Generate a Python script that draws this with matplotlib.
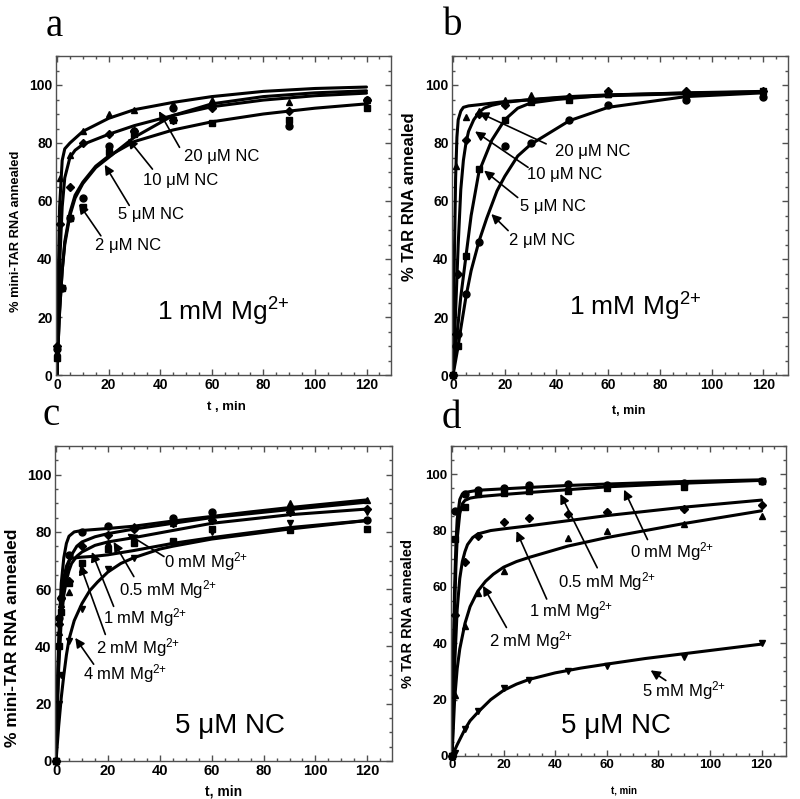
import numpy as np
import matplotlib
matplotlib.use("Agg")
import matplotlib.pyplot as plt
from matplotlib.ticker import MultipleLocator

plt.rcParams['font.family'] = ['Liberation Sans', 'DejaVu Sans']
plt.rcParams['mathtext.default'] = 'regular'

# ---------------- panel a : mini-TAR, 1 mM Mg2+, NC varied ----------------
a_labels = ["20 μM NC", "10 μM NC", "5 μM NC", "2 μM NC"]
a_pts_t = [[0, 1, 5, 10, 20, 30, 45, 60, 90, 120],
           [0, 1, 5, 10, 20, 30, 45, 60, 90, 120],
           [0, 2, 5, 10, 20, 30, 45, 60, 90, 120],
           [0, 2, 5, 10, 20, 30, 45, 60, 90, 120]]
a_pts_y = [[8, 68, 76, 84, 90, 91.5, 93.5, 95, 94, 95],
           [10, 52, 65, 80, 83, 84, 88, 92, 91, 95],
           [9, 30, 54, 61, 79, 84, 92, 93, 86, 95],
           [6, 30, 54, 58, 77, 83, 88, 87, 88, 92]]
a_fit_t = [[0, 0.5, 1, 2, 3, 5, 10, 20, 30, 45, 60, 80, 100, 120],
           [0, 0.5, 1, 2, 3, 5, 7, 10, 20, 30, 45, 60, 80, 100, 120],
           [0, 0.5, 1, 2, 3, 5, 7, 10, 15, 20, 30, 45, 60, 80, 100, 120],
           [0, 0.5, 1, 2, 3, 5, 7, 10, 15, 20, 30, 45, 60, 80, 100, 120]]
a_fit_y = [[0, 35, 58, 74, 78, 80, 84, 88.5, 91.5, 94, 96, 97.8, 98.8, 99.3],
           [0, 20, 38, 58, 68, 75, 77.5, 79.5, 83, 86, 89.5, 92.5, 94.8, 96.3, 97.2],
           [0, 12, 22, 36, 45, 55, 61, 66, 71.5, 75, 82, 89.5, 93.5, 96, 97.3, 98],
           [0, 12, 22, 36, 46, 56, 62, 66.5, 72, 75.5, 80.5, 84.5, 87.3, 90, 92, 93.5]]
a_markers = ['^', 'D', 'o', 's']

# ---------------- panel b : TAR, 1 mM Mg2+, NC varied ----------------
b_labels = ["20 μM NC", "10 μM NC", "5 μM NC", "2 μM NC"]
b_pts_t = [[0, 1, 5, 10, 20, 30, 45, 60, 90, 120],
           [0, 1, 2, 5, 10, 20, 30, 45, 60, 90, 120],
           [0, 2, 5, 10, 20, 30, 45, 60, 90, 120],
           [0, 1, 2, 5, 10, 20, 30, 45, 60, 90, 120]]
b_pts_y = [[0, 72, 89, 91, 95, 96.5, 96, 97, 97.5, 98],
           [0, 14, 35, 81, 90, 93, 95, 96, 98, 98, 98],
           [0, 10, 41, 71, 88, 94, 95, 97, 97, 98],
           [0, 10, 14, 28, 46, 79, 80, 88, 93, 95, 96]]
b_fit_t = [[0, 0.5, 1, 1.5, 2, 3, 4, 6, 10, 20, 40, 60, 90, 120],
           [0, 1, 2, 3, 4, 5, 6, 8, 10, 12, 15, 20, 30, 45, 60, 90, 120],
           [0, 1, 2, 3, 5, 7, 10, 15, 20, 25, 30, 40, 60, 90, 120],
           [0, 1, 2, 3, 5, 7, 10, 13, 17, 20, 25, 30, 45, 60, 90, 120]]
b_fit_y = [[0, 40, 68, 82, 88, 91, 92.3, 92.8, 93.2, 94.3, 95.5, 96.3, 97, 97.5],
           [0, 22, 45, 64, 74, 80, 84, 88, 90.5, 92, 93, 94, 95, 96, 96.6, 97.2, 97.6],
           [0, 10, 18, 27, 41, 55, 70, 81, 88, 92, 93.8, 95, 96.5, 97.3, 97.8],
           [0, 5, 10, 16, 27, 36, 46, 54, 63.5, 68.5, 75.5, 79.5, 87.7, 92.3, 96, 97.3]]
b_markers = ['^', 'D', 's', 'o']

# ---------------- panel c : mini-TAR, 5 uM NC, Mg2+ varied ----------------
c_labels = ["0 mM Mg$^{2{+}}$", "0.5 mM Mg$^{2{+}}$", "1 mM Mg$^{2{+}}$",
            "2 mM Mg$^{2{+}}$", "4 mM Mg$^{2{+}}$"]
c_pts_t = [[0, 1, 2, 5, 10, 20, 30, 45, 60, 90, 120]] * 5
c_pts_y = [[0, 50, 57, 72, 80, 82, 81.5, 85, 87, 88, 84],
           [0, 48, 57, 63, 75, 79, 81, 83, 84, 87, 88],
           [0, 45, 55, 59, 67, 76, 82, 83, 84, 90, 91],
           [0, 40, 52, 62, 69, 74, 76, 77, 81, 80.5, 81],
           [0, 20, 30, 42, 53, 67, 71, 76, 80, 83, 87]]
c_fit_t = [[0, 0.5, 1, 2, 3, 4, 5, 7, 10, 20, 30, 45, 60, 75, 90, 120],
           [0, 0.5, 1, 2, 3, 4, 5, 6, 8, 10, 15, 20, 30, 45, 60, 90, 120],
           [0, 0.5, 1, 2, 3, 4, 5, 6, 8, 10, 15, 20, 30, 45, 60, 90, 120],
           [0, 0.5, 1, 2, 3, 4, 5, 6, 8, 10, 15, 20, 30, 45, 60, 90, 120],
           [0, 1, 2, 3, 4, 5, 7, 10, 13, 16, 20, 25, 30, 40, 45, 60, 90, 120]]
c_fit_y = [[0, 24, 42, 62, 71, 76, 78.5, 80, 80.5, 81.2, 82, 83.8, 85.4, 87, 88.5, 91.2],
           [0, 20, 35, 52, 61, 66, 69.5, 72, 75, 76.5, 78.3, 79.4, 81, 83, 85, 87.8, 90.4],
           [0, 18, 32, 49, 58, 63, 66.5, 69, 71.5, 73, 75.3, 76.5, 78, 80.5, 83, 86, 88],
           [0, 22, 38, 56, 64, 68, 70, 70.8, 71, 71.2, 71.5, 72, 73.5, 76, 78, 81.5, 84],
           [0, 12, 22, 30, 37, 42.5, 49, 55, 59.5, 62.5, 66, 69, 71, 74, 75, 77.5, 81, 84]]
c_markers = ['o', 'D', '^', 's', 'v']

# ---------------- panel d : TAR, 5 uM NC, Mg2+ varied ----------------
d_labels = ["0 mM Mg$^{2{+}}$", "0.5 mM Mg$^{2{+}}$", "1 mM Mg$^{2{+}}$",
            "2 mM Mg$^{2{+}}$", "5 mM Mg$^{2{+}}$"]
d_pts_t = [[0, 1, 5, 10, 20, 30, 45, 60, 90, 120],
           [0, 1, 5, 10, 20, 30, 45, 60, 90, 120],
           [0, 1, 5, 10, 20, 30, 45, 60, 90, 120],
           [0, 1, 5, 10, 20, 45, 60, 90, 120],
           [0, 1, 5, 10, 20, 30, 45, 60, 90, 120]]
d_pts_y = [[0, 87, 93, 94.5, 95, 96, 96.5, 96, 97, 97.5],
           [0, 77, 88.5, 93, 93.5, 94, 94, 95, 95.5, 97.5],
           [0, 50, 69, 78, 83, 84.5, 86, 86.5, 87.5, 89],
           [0, 21.5, 46, 58, 65.5, 77.5, 80, 82.5, 85],
           [0, 1, 9.5, 16, 24, 27, 30, 32, 35, 40]]
d_fit_t = [[0, 0.5, 1, 1.5, 2, 3, 4, 5, 10, 20, 30, 45, 60, 90, 120],
           [0, 0.5, 1, 1.5, 2, 3, 4, 5, 7, 10, 20, 30, 45, 60, 90, 120],
           [0, 0.5, 1, 2, 3, 4, 5, 6, 8, 10, 15, 20, 30, 45, 60, 90, 120],
           [0, 1, 2, 3, 5, 7, 10, 13, 16, 20, 25, 30, 45, 60, 75, 90, 120],
           [0, 2, 5, 7, 10, 15, 20, 25, 30, 40, 50, 60, 75, 90, 105, 120]]
d_fit_y = [[0, 35, 60, 75, 84, 91, 93, 93.5, 94.3, 94.8, 95.3, 96, 96.5, 97.4, 98],
           [0, 30, 52, 67, 77, 86, 89.5, 90.7, 91.5, 92, 92.8, 93.5, 94.5, 95.5, 96.8, 97.8],
           [0, 18, 32, 52, 63, 69, 72.5, 75, 77.5, 78.8, 80, 80.6, 81.7, 83.5, 85.3, 88.3, 90.8],
           [0, 20, 31, 38, 47, 53, 58.5, 62, 64.5, 67, 69, 70.5, 74.5, 77.5, 80, 82.5, 87],
           [0, 4, 9.5, 12.5, 15.5, 20, 23.3, 25.5, 27.2, 29.5, 31.2, 32.6, 34.6, 36.3, 38, 39.7]]
d_markers = ['o', 's', 'D', '^', 'v']

# label layout: (text x, text y, arrow tail x, tail y, arrow tip x, tip y) in data units
a_ann = [(64, 75.5, 47.5, 78.5, 39.5, 91), (48, 67, 37, 71, 27.5, 81.5),
         (36.5, 55.5, 28, 58.5, 18.5, 72.5), (27.5, 44.5, 17, 48, 8.5, 59)]
b_ann = [(54, 77, 36, 79.7, 10, 90.5), (43, 69, 29, 71.6, 8.5, 84),
         (38.5, 58, 25, 61.2, 12, 70.5), (34.5, 46.3, 21.3, 49.8, 14.8, 55.5)]
c_ann = [(58, 69.5, 41.6, 71.4, 27.4, 79.4), (43, 59.8, 30, 64.4, 22.2, 76.5),
         (34.5, 50, 22.2, 54, 13.8, 73), (31.5, 39.6, 19, 44.2, 9.3, 68.5),
         (26.5, 30.4, 14.5, 33.8, 7.4, 43)]
d_ann = [(85.5, 72.7, 75.8, 76.8, 66.7, 94.5), (60, 62, 56.3, 66.8, 42, 93),
         (46, 51.5, 36.7, 55.7, 25, 79.8), (30.5, 41, 21.1, 45.6, 12, 60.4),
         (90, 23.3, 82.9, 26.8, 77, 30.4)]

W, H = 800, 799
fig = plt.figure(figsize=(W / 100, H / 100), dpi=100)
SPINE = '#505050'


def make_axes(left, top, right, bottom):
    return fig.add_axes([left / W, 1 - bottom / H, (right - left) / W, (bottom - top) / H])


def panel(ax, pts_t, pts_y, fit_t, fit_y, markers, labels, ann, tick_fs):
    for t, y in zip(fit_t, fit_y):
        ax.plot(t, y, color='black', lw=2.2, solid_capstyle='round', zorder=2)
    for t, y, m in zip(pts_t, pts_y, markers):
        ms = 4.2 if m == 'D' else 5
        ax.plot(t, y, ls='none', marker=m, ms=ms, color='black', clip_on=False, zorder=3)
    for lab, (tx, ty, x0, y0, x1, y1) in zip(labels, ann):
        ax.annotate('', xy=(x1, y1), xytext=(x0, y0),
                    arrowprops=dict(arrowstyle='-|>', color='black', lw=1.2,
                                    mutation_scale=14, shrinkA=0, shrinkB=0))
        ax.text(tx, ty, lab, fontsize=12, ha='center', va='center')
    ax.set_xlim(-0.4, 129.5)
    ax.set_ylim(0, 110)
    ax.xaxis.set_minor_locator(MultipleLocator(5))
    ax.yaxis.set_minor_locator(MultipleLocator(5))
    ax.set_xticks([0, 20, 40, 60, 80, 100, 120])
    ax.set_yticks([0, 20, 40, 60, 80, 100])
    ax.tick_params(which='both', direction='in', top=True, right=True, color=SPINE, width=1)
    ax.tick_params(which='major', length=4, pad=2.5, labelsize=tick_fs)
    ax.tick_params(which='minor', length=2.5)
    for lab in ax.get_xticklabels() + ax.get_yticklabels():
        lab.set_fontweight('bold')
    for s in ax.spines.values():
        s.set_color(SPINE)
        s.set_linewidth(1)


ax_a = make_axes(56, 56, 391, 375)
ax_b = make_axes(452, 56, 788, 375)
ax_c = make_axes(55, 446, 392, 761)
ax_d = make_axes(451, 446, 786, 756)

panel(ax_a, a_pts_t, a_pts_y, a_fit_t, a_fit_y, a_markers, a_labels, a_ann, 10)
panel(ax_b, b_pts_t, b_pts_y, b_fit_t, b_fit_y, b_markers, b_labels, b_ann, 10)
panel(ax_c, c_pts_t, c_pts_y, c_fit_t, c_fit_y, c_markers, c_labels, c_ann, 10.5)
panel(ax_d, d_pts_t, d_pts_y, d_fit_t, d_fit_y, d_markers, d_labels, d_ann, 9.5)

# axis titles
ax_a.set_ylabel('% mini-TAR RNA annealed', fontsize=9.3, fontweight='bold')
ax_a.yaxis.set_label_coords(-0.102, 0.45)
ax_a.set_xlabel('t , min', fontsize=9.5, fontweight='bold')
ax_a.xaxis.set_label_coords(0.51, -0.082)

ax_b.set_ylabel('% TAR RNA annealed', fontsize=12, fontweight='bold')
ax_b.yaxis.set_label_coords(-0.105, 0.56)
ax_b.set_xlabel('t, min', fontsize=9, fontweight='bold')
ax_b.xaxis.set_label_coords(0.527, -0.094)

ax_c.set_ylabel('% mini-TAR RNA annealed', fontsize=12.5, fontweight='bold')
ax_c.yaxis.set_label_coords(-0.104, 0.392)
ax_c.set_xlabel('t, min', fontsize=10, fontweight='bold')
ax_c.xaxis.set_label_coords(0.499, -0.074)

ax_d.set_ylabel('% TAR RNA annealed', fontsize=10.5, fontweight='bold')
ax_d.yaxis.set_label_coords(-0.107, 0.46)
ax_d.set_xlabel('t, min', fontsize=7, fontweight='bold')
ax_d.xaxis.set_label_coords(0.516, -0.094)

# condition captions inside panels
fig.text(223 / W, 1 - 321 / H, '1 mM Mg$^{2{+}}$', fontsize=19, ha='center', va='baseline')
fig.text(635 / W, 1 - 316 / H, '1 mM Mg$^{2{+}}$', fontsize=19, ha='center', va='baseline')
fig.text(230 / W, 1 - 733 / H, '5 μM NC', fontsize=20, ha='center', va='baseline')
fig.text(616 / W, 1 - 733 / H, '5 μM NC', fontsize=20, ha='center', va='baseline')

# panel letters
for letter, x, y in [('a', 46, 36), ('b', 443, 35), ('c', 43, 425), ('d', 442, 428)]:
    fig.text(x / W, 1 - y / H, letter, fontsize=28, family='Liberation Serif',
             ha='left', va='baseline')

fig.savefig('out.png', dpi=100, facecolor='white')
